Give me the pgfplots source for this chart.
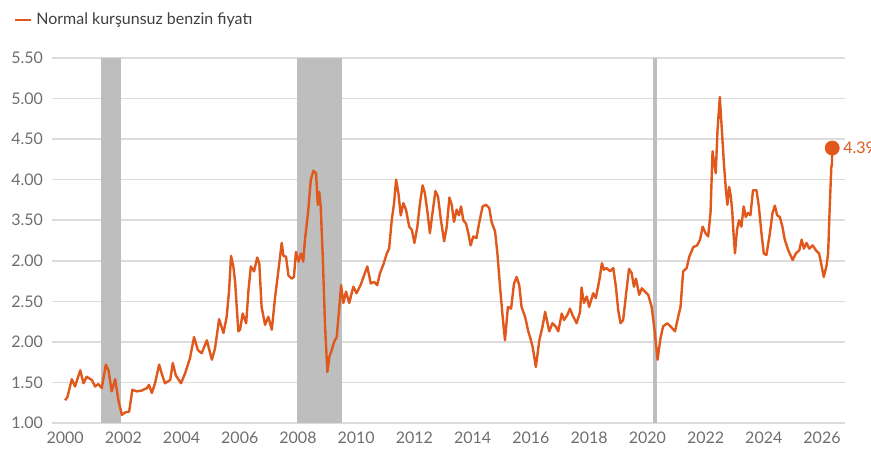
\documentclass[border=0pt]{standalone}
\usepackage{pgfplots}
\pgfplotsset{compat=1.18}
\usepackage{fontspec}
\setmainfont{Lato}
\definecolor{lineor}{RGB}{224,88,28}
\definecolor{gridg}{RGB}{220,220,220}
\definecolor{shadeg}{RGB}{190,190,190}
\definecolor{tickg}{RGB}{110,110,110}
\begin{document}
\begin{tikzpicture}
\path[use as bounding box] (-26pt,-13pt) rectangle (409.5pt,211.5pt);
\begin{axis}[
  at={(0,0)}, anchor=south west,
  scale only axis, width=396.5pt, height=182.5pt,
  xmin=1999.55, xmax=2026.79, ymin=1, ymax=5.5,
  clip=false,
  axis line style={draw=none},
  major tick length=0pt,
  xtick={2000,2002,...,2026},
  xticklabel style={/pgf/number format/1000 sep={}},
  ytick={1,1.5,2,2.5,3,3.5,4,4.5,5,5.5},
  yticklabels={1.00,1.50,2.00,2.50,2.00,3.50,4.00,4.50,5.00,5.50},
  /pgf/number format/assume math mode=true,
  tick label style={font=\fontsize{8}{9}\selectfont, text=tickg},
  yticklabel style={xshift=-1pt},
  xticklabel style={yshift=-1pt},
  ymajorgrids, grid style={gridg, line width=0.8pt},
  legend style={at={(-0.048,1.104)}, anchor=west, draw=none, fill=none, inner sep=0pt,
    font=\fontsize{8}{9}\selectfont, text=black!75},
  legend cell align=left,
  legend image code/.code={\draw[#1, line width=1pt] (0pt,0pt) -- (8pt,0pt);},
]
\fill[shadeg] (axis cs:2001.24,1) rectangle (axis cs:2001.92,5.5);
\fill[shadeg] (axis cs:2007.97,1) rectangle (axis cs:2009.50,5.5);
\fill[shadeg] (axis cs:2020.19,1) rectangle (axis cs:2020.32,5.5);
\addplot[lineor, line width=1.2pt, line join=round] coordinates {
(2000.00,1.28) (2000.08,1.32) (2000.23,1.54) (2000.34,1.45) (2000.52,1.65) (2000.63,1.49)
(2000.74,1.57) (2000.92,1.53) (2001.03,1.45) (2001.14,1.48) (2001.26,1.43) (2001.40,1.72)
(2001.49,1.65) (2001.60,1.39) (2001.72,1.54) (2001.83,1.28) (2001.95,1.10) (2002.06,1.13)
(2002.20,1.14) (2002.31,1.41) (2002.46,1.39) (2002.63,1.40) (2002.81,1.43) (2002.88,1.47)
(2002.98,1.37) (2003.09,1.49) (2003.23,1.72) (2003.32,1.61) (2003.43,1.49) (2003.61,1.53)
(2003.70,1.74) (2003.80,1.59) (2003.98,1.49) (2004.12,1.61) (2004.29,1.80) (2004.43,2.06)
(2004.56,1.90) (2004.69,1.86) (2004.87,2.02) (2005.04,1.78) (2005.15,1.92) (2005.29,2.28)
(2005.44,2.11) (2005.55,2.31) (2005.63,2.62) (2005.70,3.06) (2005.78,2.93) (2005.84,2.74)
(2005.95,2.13) (2006.01,2.15) (2006.10,2.35) (2006.22,2.23) (2006.30,2.64) (2006.38,2.93)
(2006.49,2.87) (2006.60,3.04) (2006.67,2.97) (2006.75,2.43) (2006.87,2.21) (2006.98,2.31)
(2007.10,2.15) (2007.21,2.54) (2007.33,2.89) (2007.44,3.22) (2007.50,3.06) (2007.59,3.05)
(2007.67,2.82) (2007.78,2.78) (2007.86,2.80) (2007.93,3.11) (2008.02,2.99) (2008.10,3.09)
(2008.18,2.99) (2008.24,3.26) (2008.35,3.61) (2008.44,4.00) (2008.53,4.11) (2008.62,4.08)
(2008.68,3.69) (2008.73,3.85) (2008.78,3.67) (2008.85,3.05) (2008.93,2.19) (2009.01,1.63)
(2009.08,1.82) (2009.16,1.90) (2009.24,2.00) (2009.33,2.06) (2009.41,2.39) (2009.48,2.70)
(2009.56,2.48) (2009.65,2.62) (2009.76,2.48) (2009.90,2.68) (2010.01,2.60) (2010.15,2.70)
(2010.27,2.82) (2010.38,2.93) (2010.50,2.72) (2010.61,2.74) (2010.72,2.70) (2010.82,2.85)
(2010.93,2.95) (2011.05,3.09) (2011.13,3.15) (2011.22,3.50) (2011.30,3.71) (2011.37,4.00)
(2011.45,3.83) (2011.53,3.56) (2011.62,3.71) (2011.71,3.63) (2011.82,3.42) (2011.91,3.38)
(2012.00,3.22) (2012.10,3.42) (2012.19,3.71) (2012.28,3.93) (2012.36,3.83) (2012.45,3.59)
(2012.53,3.34) (2012.62,3.59) (2012.72,3.86) (2012.81,3.79) (2012.91,3.50) (2013.02,3.24)
(2013.11,3.42) (2013.20,3.78) (2013.28,3.69) (2013.36,3.48) (2013.45,3.63) (2013.53,3.56)
(2013.60,3.67) (2013.68,3.50) (2013.77,3.46) (2013.85,3.34) (2013.93,3.19) (2014.02,3.30)
(2014.13,3.28) (2014.22,3.46) (2014.34,3.67) (2014.46,3.69) (2014.57,3.65) (2014.65,3.48)
(2014.77,3.36) (2014.85,3.09) (2014.94,2.68) (2015.03,2.31) (2015.11,2.02) (2015.21,2.43)
(2015.32,2.41) (2015.42,2.72) (2015.51,2.80) (2015.60,2.70) (2015.68,2.43) (2015.80,2.31)
(2015.91,2.13) (2015.97,2.06) (2016.06,1.94) (2016.17,1.69) (2016.29,2.02) (2016.40,2.19)
(2016.49,2.37) (2016.63,2.13) (2016.74,2.23) (2016.85,2.19) (2016.94,2.13) (2017.06,2.35)
(2017.14,2.27) (2017.25,2.33) (2017.34,2.41) (2017.43,2.33) (2017.57,2.23) (2017.69,2.37)
(2017.74,2.67) (2017.82,2.48) (2017.92,2.56) (2018.00,2.43) (2018.14,2.60) (2018.23,2.54)
(2018.35,2.76) (2018.44,2.97) (2018.51,2.89) (2018.60,2.91) (2018.72,2.87) (2018.83,2.91)
(2018.92,2.68) (2019.00,2.39) (2019.08,2.23) (2019.17,2.27) (2019.26,2.56) (2019.37,2.90)
(2019.46,2.85) (2019.54,2.68) (2019.61,2.78) (2019.72,2.58) (2019.81,2.66) (2019.92,2.62)
(2020.03,2.58) (2020.15,2.43) (2020.26,2.11) (2020.35,1.78) (2020.45,2.04) (2020.54,2.19)
(2020.68,2.23) (2020.80,2.19) (2020.95,2.13) (2021.06,2.31) (2021.14,2.43) (2021.23,2.87)
(2021.35,2.91) (2021.44,3.05) (2021.58,3.17) (2021.71,3.19) (2021.81,3.26) (2021.90,3.42)
(2022.00,3.34) (2022.09,3.30) (2022.17,3.59) (2022.24,4.35) (2022.28,4.24) (2022.35,4.08)
(2022.41,4.61) (2022.49,5.02) (2022.56,4.61) (2022.63,4.20) (2022.70,3.87) (2022.75,3.69)
(2022.81,3.91) (2022.87,3.79) (2022.92,3.59) (2022.96,3.34) (2023.01,3.09) (2023.08,3.38)
(2023.15,3.50) (2023.23,3.42) (2023.31,3.67) (2023.38,3.54) (2023.46,3.59) (2023.54,3.56)
(2023.63,3.87) (2023.75,3.87) (2023.83,3.67) (2023.92,3.34) (2024.00,3.09) (2024.09,3.07)
(2024.21,3.34) (2024.30,3.59) (2024.38,3.68) (2024.46,3.56) (2024.55,3.54) (2024.64,3.42)
(2024.72,3.26) (2024.84,3.13) (2024.99,3.01) (2025.10,3.09) (2025.22,3.13) (2025.30,3.26)
(2025.38,3.15) (2025.47,3.22) (2025.56,3.15) (2025.68,3.19) (2025.79,3.13) (2025.90,3.09)
(2025.98,2.95) (2026.06,2.80) (2026.15,2.93) (2026.21,3.09) (2026.27,3.71) (2026.32,4.16)
(2026.34,4.18) (2026.35,4.39)
};
\addlegendentry{Normal kurşunsuz benzin fiyatı}
\addplot[only marks, mark=*, mark size=3.5pt, lineor, forget plot] coordinates {(2026.35,4.39)}
  node[right, xshift=2pt, text=lineor, font=\fontsize{8}{9}\selectfont] {4.39};
\end{axis}
\end{tikzpicture}
\end{document}
